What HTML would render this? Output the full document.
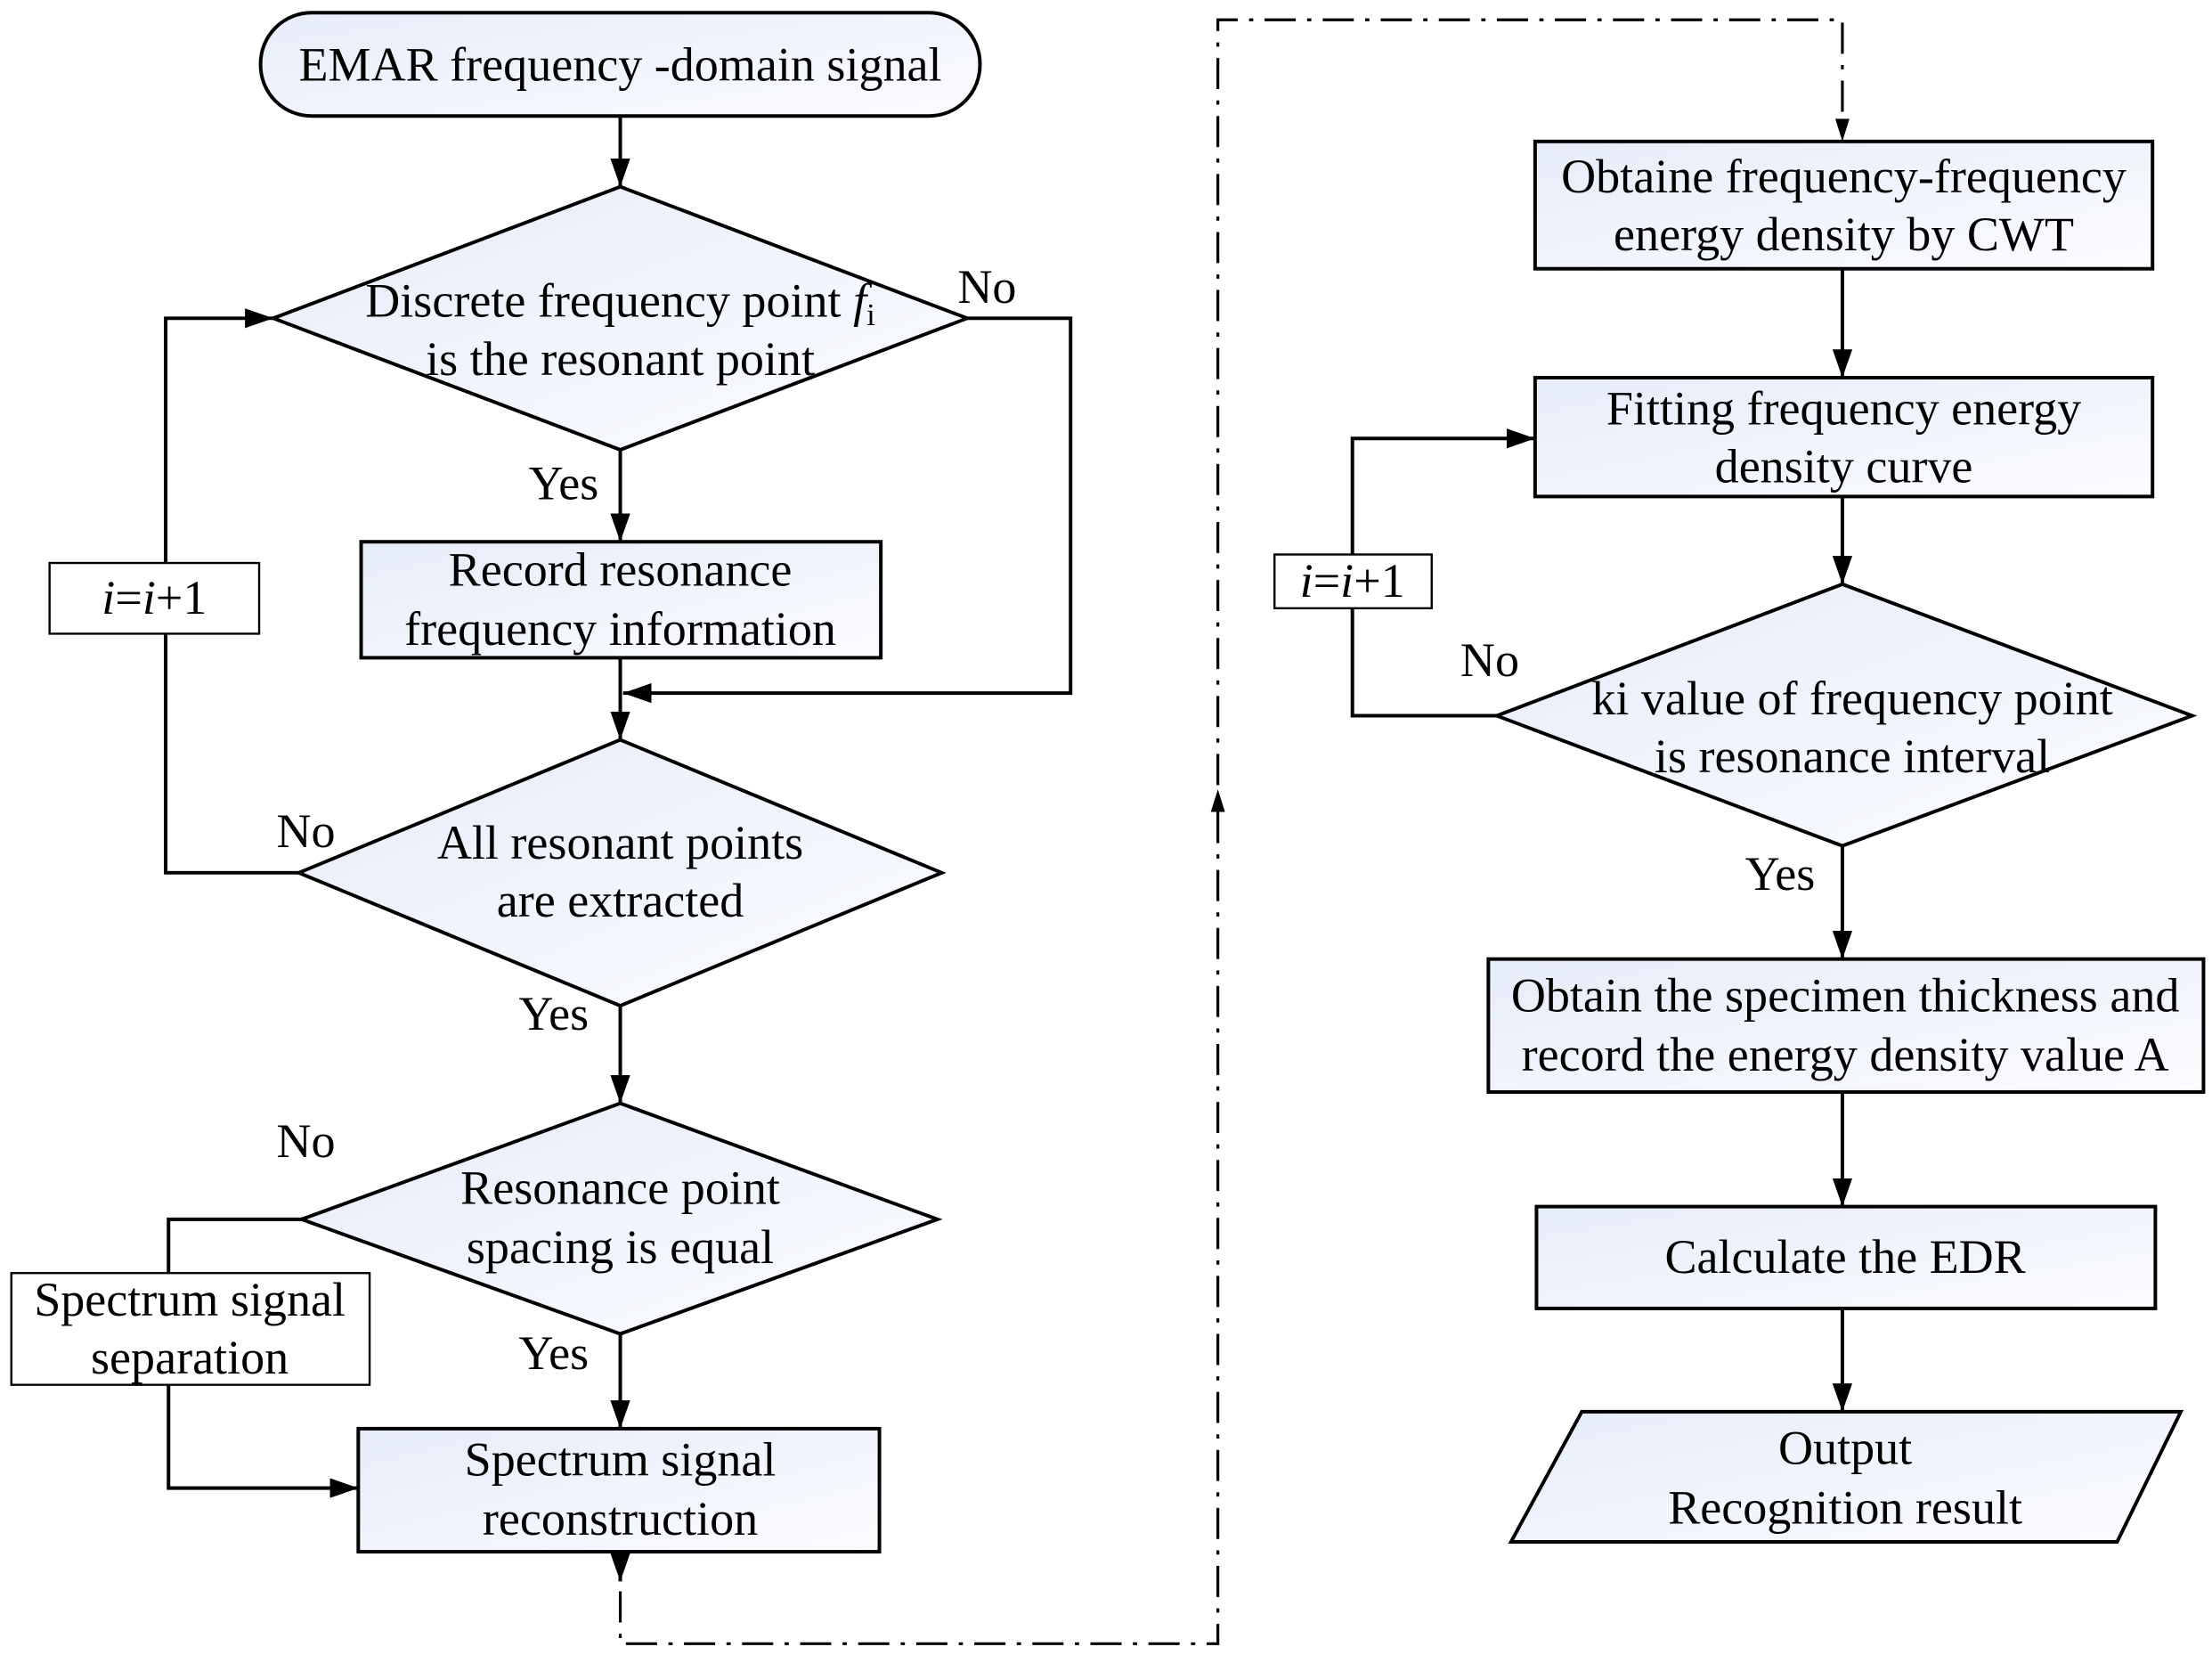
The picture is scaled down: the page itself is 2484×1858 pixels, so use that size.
<!DOCTYPE html>
<html><head><meta charset="utf-8"><style>html,body{margin:0;padding:0;background:#fff}svg{display:block}</style></head><body>
<svg width="2484" height="1858" viewBox="0 0 1562 1170" preserveAspectRatio="none" xmlns="http://www.w3.org/2000/svg">
<defs>
<linearGradient id="g" x1="0" y1="0" x2="1" y2="1"><stop offset="0" stop-color="#e6ecf9"/><stop offset="1" stop-color="#fbfcff"/></linearGradient>
<marker id="b" viewBox="0 0 20 14" markerWidth="20" markerHeight="14" refX="20" refY="7" orient="auto" markerUnits="userSpaceOnUse"><path d="M0,0 L20,7 L0,14 z" fill="#000"/></marker>
</defs>
<g fill="none" stroke="#000" stroke-width="2.5" marker-end="url(#b)">
<line x1="438" y1="82" x2="438" y2="132"/>
<line x1="438" y1="318" x2="438" y2="383"/>
<line x1="438" y1="465" x2="438" y2="523"/>
<polyline points="683,225 756,225 756,490 440,490"/>
<polyline points="211,617 117,617 117,225 193,225"/>
<line x1="438" y1="711" x2="438" y2="780"/>
<polyline points="213,862 119,862 119,1052 253,1052"/>
<line x1="438" y1="943" x2="438" y2="1010"/>
<line x1="438" y1="1097" x2="438" y2="1118"/>
<line x1="1301" y1="190" x2="1301" y2="267"/>
<line x1="1301" y1="351" x2="1301" y2="413"/>
<polyline points="1057,506 955,506 955,310 1084,310"/>
<line x1="1301" y1="598" x2="1301" y2="678"/>
<line x1="1301" y1="772" x2="1301" y2="853"/>
<line x1="1301" y1="925" x2="1301" y2="998"/>
</g>
<g fill="url(#g)" stroke="#000" stroke-width="2.5">
<rect x="184" y="9" width="508" height="73" rx="36"/>
<polygon points="438,132 683,225 438,318 193,225"/>
<rect x="255" y="383" width="367" height="82"/>
<polygon points="438,523 665,617 438,711 211,617"/>
<polygon points="438,780 662,862 438,943 213,862"/>
<rect x="253" y="1010" width="368" height="87"/>
<rect x="1084" y="100" width="436" height="90"/>
<rect x="1084" y="267" width="436" height="84"/>
<polygon points="1301,413 1548,506 1301,598 1057,506"/>
<rect x="1051" y="678" width="505" height="94"/>
<rect x="1085" y="853" width="437" height="72"/>
<polygon points="1117,998 1540,998 1495,1090 1067,1090"/>
</g>
<g fill="#fff" stroke="#000" stroke-width="1.5">
<rect x="35" y="398" width="148" height="50"/>
<rect x="8" y="900" width="253" height="79"/>
<rect x="900" y="392" width="111" height="38"/>
</g>
<g fill="none" stroke="#000" stroke-width="2" stroke-dasharray="22,8,3,8">
<polyline points="438,1125 438,1162 860,1162 860,14 1301,14 1301,95"/>
</g>
<path d="M855,574 L860,558 L865,574 z" fill="#000"/>
<path d="M1296,84 L1301,100 L1306,84 z" fill="#000"/>
<g font-family="'Liberation Serif',serif" font-size="34" text-anchor="middle" fill="#000">
<text x="438" y="57">EMAR frequency -domain signal</text>
<text x="438" y="224">Discrete frequency point <tspan font-style="italic">f</tspan><tspan font-size="22" dy="6">i</tspan></text>
<text x="438" y="265">is the resonant point</text>
<text x="438" y="414">Record resonance</text>
<text x="438" y="456">frequency information</text>
<text x="438" y="607">All resonant points</text>
<text x="438" y="648">are extracted</text>
<text x="438" y="851">Resonance point</text>
<text x="438" y="893">spacing is equal</text>
<text x="438" y="1043">Spectrum signal</text>
<text x="438" y="1085">reconstruction</text>
<text x="134" y="930">Spectrum signal</text>
<text x="134" y="971">separation</text>
<text x="109" y="434"><tspan font-style="italic">i</tspan>=<tspan font-style="italic">i</tspan>+1</text>
<text x="955" y="422"><tspan font-style="italic">i</tspan>=<tspan font-style="italic">i</tspan>+1</text>
<text x="697" y="214">No</text>
<text x="398" y="353">Yes</text>
<text x="216" y="599">No</text>
<text x="391" y="728">Yes</text>
<text x="216" y="818">No</text>
<text x="391" y="968">Yes</text>
<text x="1302" y="136">Obtaine frequency-frequency</text>
<text x="1302" y="177">energy density by CWT</text>
<text x="1302" y="300">Fitting frequency energy</text>
<text x="1302" y="341">density curve</text>
<text x="1052" y="478">No</text>
<text x="1308" y="505">ki value of frequency point</text>
<text x="1308" y="546">is resonance interval</text>
<text x="1257" y="629">Yes</text>
<text x="1303" y="715">Obtain the specimen thickness and</text>
<text x="1303" y="757">record the energy density value A</text>
<text x="1303" y="900">Calculate the EDR</text>
<text x="1303" y="1035">Output</text>
<text x="1303" y="1077">Recognition result</text>
</g>
</svg>
</body></html>
